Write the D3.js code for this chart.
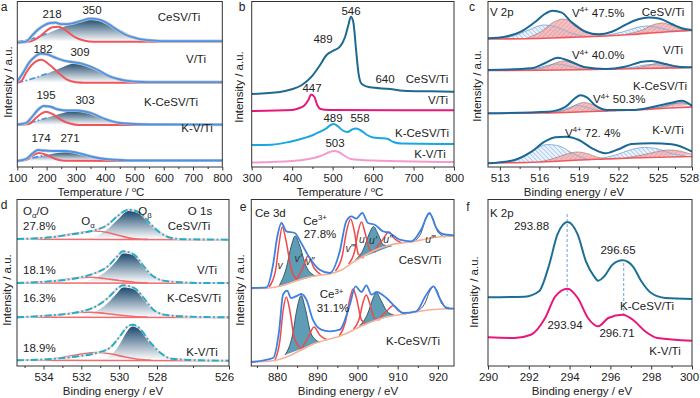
<!DOCTYPE html>
<html><head><meta charset="utf-8">
<script src="https://cdn.jsdelivr.net/npm/d3@7"></script>
<style>body{margin:0;background:#fff} text{font-family:"Liberation Sans",Arial,Helvetica,sans-serif;}</style>
</head><body><script>
// ---------------- DATA ----------------
// Panel a : NH3-TPD (temperature, intensity)
const aTicks=[100,200,300,400,500,600,700,800];
const a_CeSV_meas=[[100,124.3],[130,125.3],[150,131.3],[170,137.3],[190,141.3],[210,143.8],[230,144.3],[250,142.8],[270,142.8],[290,143.8],[320,146.3],[350,148.3],[380,147.3],[410,143.3],[440,137.3],[470,132.3],[500,129.3],[530,127.3],[570,126.3],[600,125.8],[800,125.8]];
const a_CeSV_red=[[100,125.3],[140,125.3],[160,127.3],[180,131.3],[200,136.3],[220,139.8],[240,140.3],[260,137.8],[280,133.3],[300,129.3],[330,126.3],[360,125.3],[800,125.3]];
const a_CeSV_c2=[[100,125.3],[150,128.3],[200,133.3],[250,139.3],[300,144.3],[350,147.3],[400,144.3],[450,137.3],[500,130.3],[550,126.8],[600,125.3]];
const a_V_meas=[[100,85.3],[120,94.3],[140,104.3],[160,110.3],[180,113.3],[200,112.8],[230,109.3],[260,106.3],[290,104.8],[320,103.3],[350,100.3],[380,96.3],[410,91.3],[440,88.3],[470,86.3],[500,85.3],[550,84.8],[800,84.8]];
const a_V_red=[[100,84.3],[115,86.3],[130,94.3],[150,102.3],[182,107.3],[210,102.3],[240,94.3],[270,87.3],[300,84.8],[330,84.3],[800,84.3]];
const a_V_c2=[[100,84.3],[150,88.3],[200,93.3],[250,99.3],[300,103.8],[350,101.3],[400,94.3],[450,88.3],[500,85.3],[550,84.3]];
const a_KCeSV_meas=[[100,42.5],[130,44],[150,50],[170,57],[190,61],[210,60.5],[240,57.5],[270,56.5],[300,56.5],[330,55.5],[360,53],[390,49],[420,46],[450,44],[500,43],[600,42.5],[800,42.3]];
const a_KCeSV_red=[[100,42],[140,43],[160,48],[180,53],[198,55.3],[220,53],[250,47],[280,43.5],[310,42],[800,42]];
const a_KCeSV_c2=[[100,42],[150,45],[200,49],[250,53.5],[300,56],[350,54],[400,48],[450,44],[500,42.5],[550,42]];
const a_KV_meas=[[100,6],[130,8],[150,13],[170,17],[190,16.5],[220,16],[260,16],[290,15],[320,13],[360,10],[400,8],[450,7],[500,6.5],[800,6.5]];
const a_KV_red=[[100,6],[130,7],[150,11],[174,14],[200,12],[230,8],[260,6.3],[800,6]];
const a_KV_c2=[[110,6],[150,9],[200,12],[250,14.5],[271,15],[300,14],[350,11],[400,8],[450,6.5],[500,6]];

// Panel b : H2-TPR
const bTicks=[300,400,500,600,700,800];
const b_CeSV=[[300,73],[370,75],[399,77.7],[424,82],[448,90.3],[469,102],[485,112],[502,116.3],[518,120.3],[531,130.3],[539,142],[545,150.3],[551,145.3],[558,117],[564,93.7],[572,83],[592,79.7],[642,78],[675,76.3],[741,75.7],[800,75.3]];
const b_V=[[300,56],[400,57],[415,58.5],[430,61.5],[440,67],[447,72.5],[455,70],[462,62],[470,58],[490,57],[800,56.7]];
const b_KCeSV=[[300,22],[350,22.3],[395,25.3],[430,29],[452,32],[470,35.5],[485,38.7],[495,42],[503,43],[512,41],[525,36.5],[537,35],[548,37.5],[557,38.5],[568,37],[585,32],[600,29.5],[620,28.8],[635,28.3],[650,25],[670,23.5],[800,23]];
const b_KV=[[300,4.5],[400,6],[440,8],[470,11],[490,14.5],[503,16],[515,15],[530,11],[545,8],[570,7],[600,6.5],[700,5.5],[800,5]];

// Panel c : V 2p XPS
const cTicks=[513,516,519,522,525,528];
const c_CeSV_env=[[512.1,128.7],[513.4,130.3],[514.6,135.3],[515.7,145.3],[516.4,153],[517.0,156.3],[517.7,154.3],[518.4,145.3],[519.5,135.3],[520.5,132.7],[521.5,135.3],[522.5,142],[523.5,147.7],[524.3,149.5],[525.1,148.5],[526.2,143],[527.1,138.7],[528,137]];
const c_CeSV_base=[[512.1,128],[515,128.3],[517,129],[519,130],[521,131],[523,132.5],[525,134.5],[527,136],[528,136.5]];
const c_CeSV_v5a=[[512.8,128.3],[514,131],[515.2,137],[516.3,142],[517.3,140],[518.4,134],[519.6,130.3]];
const c_CeSV_v4a=[[515,128.5],[516.2,136],[517.1,145],[517.8,148],[518.6,144],[519.6,135],[521,131]];
const c_CeSV_v5b=[[521,131.5],[522.3,135],[523.4,139.5],[524.2,141],[525,139.5],[526.2,136.5],[527.5,136]];
const c_CeSV_v4b=[[522.5,132.5],[523.8,137],[524.7,142.5],[525.4,144],[526.1,142],[527,138],[528,136.8]];
const c_V_env=[[512.1,97],[515.4,98.7],[516.4,103.7],[517.4,109.3],[518.4,105.3],[519.5,99.7],[521,98],[522.5,100.3],[523.8,105.3],[524.5,106],[525.6,103],[526.8,100.3],[528,99.7]];
const c_V_base=[[512.1,96.5],[516,96.8],[519,97.3],[522,98],[525,98.8],[528,99.5]];
const c_V_v5a=[[514.5,96.8],[515.7,98.5],[516.6,101.5],[517.3,103],[518.1,101.5],[519,98.5],[520,97.2]];
const c_V_v4a=[[515.5,97],[516.6,100.5],[517.3,104.5],[517.8,106],[518.4,104.5],[519.2,100.5],[520.3,97.5]];
const c_V_v5b=[[522,98.2],[523.2,100],[524,102],[524.7,102.5],[525.4,101.5],[526.3,99.5],[527.3,99]];
const c_V_v4b=[[523,98.5],[524.1,101],[524.8,103.5],[525.3,104],[525.9,103],[526.8,100.5],[527.8,99.5]];
const c_KCeSV_env=[[512.1,53.7],[516.7,55.3],[518.0,60.3],[518.7,68.7],[519.1,71.7],[519.6,69.7],[520.2,62],[521.2,57],[523,57],[524.5,59.7],[526.2,64.3],[527.1,66.3],[528,61]];
const c_KCeSV_base=[[512.1,53.5],[516,54],[518,54.5],[520,55.5],[522,56.5],[524,57.5],[526,59],[528,60]];
const c_KCeSV_v5a=[[516.5,54],[517.5,56],[518.3,59.5],[518.9,61.5],[519.5,60],[520.3,57],[521.2,55.5]];
const c_KCeSV_v4a=[[517,54.3],[518.2,58],[518.9,63],[519.4,64.5],[520,62.5],[520.8,58],[521.8,56]];
const c_KCeSV_v5b=[[524,57.5],[525.2,60],[526.2,63],[526.9,64],[527.6,63],[528,62]];
const c_KCeSV_v4b=[[524.5,58],[525.6,60.5],[526.5,63.5],[527.2,64.5],[527.8,63],[528,62.5]];
const c_KV_env=[[512.1,3.7],[514.1,7],[515.4,15.3],[516.4,25.3],[517.2,29.7],[518.0,30.3],[519.0,27],[520.0,18.7],[521.0,13.7],[522.0,17.7],[523.0,23],[524.5,23.7],[526.2,22.7],[527.4,18.7],[528,15.3]];
const c_KV_base=[[512.1,4],[515,4.5],[517,5.5],[519,7],[521,8],[523,9],[525,9.8],[528,10.5]];
const c_KV_v5a=[[513.2,4.2],[514.5,8],[515.6,17],[516.6,22.5],[517.5,21],[518.6,13],[519.8,7]];
const c_KV_v4a=[[516,5],[517.2,9],[518.2,13.5],[518.9,15],[519.6,13.5],[520.5,9.5],[521.6,8]];
const c_KV_v5b=[[520.5,8],[521.8,12],[523,17.5],[524,19.5],[525,18],[526.3,13],[527.5,11]];
const c_KV_v4b=[[522.5,9],[523.8,12],[525,15.5],[526,17],[526.9,16],[527.7,13.5],[528,12.5]];

// Panel d : O 1s XPS
const dTicks=[534,532,530,528,526];
const d_CeSV_env=[[535.4,127],[533.6,128.7],[532.4,132],[531.4,135.3],[530.6,141.3],[530.1,149.7],[529.5,156.3],[528.9,153],[528.4,143],[527.9,133],[527.6,128],[527.2,126.7],[526,126.3]];
const d_CeSV_base=[[535.4,126.8],[526,126.3]];
const d_CeSV_Oa=[[535,127],[534,128],[533,130.5],[532,133.5],[531.3,135],[530.6,133.5],[530,130.5],[529.3,127.5],[528.5,126.6]];
const d_CeSV_Ob=[[532,127],[531.2,130],[530.6,137],[530.1,146],[529.5,155],[528.9,152],[528.4,142],[527.9,132],[527.5,127.5],[527.2,127]];
const d_V_env=[[535.4,83],[533.6,84.7],[532.2,88],[531.4,92],[530.6,99.7],[530.1,109.7],[529.8,114.7],[529.2,111.3],[528.7,99.7],[528.2,89.7],[527.7,84.7],[526.8,83],[526,83]];
const d_V_base=[[535.4,83],[526,82.8]];
const d_V_Oa=[[535,83],[534,84],[533,86],[532.2,88.3],[531.5,88.7],[530.8,87.5],[530,85.5],[529.2,83.8],[528.5,83.2]];
const d_V_Ob=[[532.3,83.2],[531.4,87],[530.6,96],[530.1,106],[529.8,112.5],[529.2,110.5],[528.7,99],[528.2,89.5],[527.7,84.5],[527.2,83.2]];
const d_KCeSV_env=[[535.4,48.7],[533.6,50.7],[532.2,53.7],[531.4,58],[530.6,68],[530.1,77.3],[529.8,80.7],[529.2,78],[528.7,68],[528.2,56.3],[527.7,50.7],[526.8,49],[526,48.7]];
const d_KCeSV_base=[[535.4,48.7],[526,48.5]];
const d_KCeSV_Oa=[[535,48.7],[534,49.5],[533,51.5],[532.2,53.5],[531.5,53.8],[530.8,52.8],[530,51],[529.2,49.5],[528.5,48.9]];
const d_KCeSV_Ob=[[532.3,49],[531.4,53],[530.6,63],[530.1,73],[529.8,78.5],[529.2,76.5],[528.7,66.5],[528.2,55],[527.7,50],[527.2,49]];
const d_KV_env=[[535.4,5.7],[533.6,7],[532.2,9.7],[531.2,13],[530.5,18],[529.9,31.3],[529.6,38.7],[529.3,41.3],[528.9,37.3],[528.4,24.7],[527.9,13],[527.6,7.3],[526.8,5.7],[526,5.3]];
const d_KV_base=[[535.4,5.7],[526,5.3]];
const d_KV_Oa=[[535,5.7],[534,6.3],[533,8.5],[532,12],[531.2,13.5],[530.4,12],[529.7,9],[529,6.8],[528.3,5.8]];
const d_KV_Ob=[[531.2,6],[530.5,10],[529.9,24],[529.6,34],[529.3,39.5],[528.9,36],[528.4,23.5],[527.9,12],[527.6,7],[527.3,6]];

// Panel e : Ce 3d XPS
const eTicks=[880,890,900,910,920];
const e_CeSV_env=[[873.6,78],[877.4,78.7],[879.0,101],[880.0,128],[881.1,143],[882.3,134.7],[884.4,133],[886.0,123],[888.1,108],[890.6,96.3],[893.1,93],[895.6,114.7],[897.2,144.7],[898.5,149.7],[899.7,147.3],[901.2,153],[902.6,143],[904.3,141.3],[906.3,134.7],[908.0,133],[910.5,126.3],[913.4,124.7],[915.8,136.3],[917.9,153],[919.6,138],[921.2,132],[923.9,130.7]];
const e_CeSV_base=[[873.6,77.5],[878,78],[881,80],[884,84],[887,88],[890,90.5],[893,92],[896,96],[899,104],[902,111],[905,117],[908,121],[911,123],[914,124.5],[917,127],[920,129],[924,130]];
const e_CeSV_red=[
 [[878,79],[879.6,95],[880.5,122],[881.3,139],[882.3,124],[883.5,97],[885,86]],
 [[884.8,86],[886.3,97],[887.7,110],[889.2,98],[891,91]],
 [[894.5,95],[896.2,110],[897.3,135],[898.3,147],[899.2,135],[900.2,112],[901.5,108]],
 [[897.8,102],[899.3,115],[900.2,135],[901,144],[901.9,133],[903.1,116],[904.5,114]],
 [[904.5,117],[906.2,126],[907.8,134],[909.3,127],[911,123]]];
const e_CeSV_ce3=[
 [[880.5,80],[882.3,98],[883.6,121],[884.5,130],[885.6,121],[887.2,100],[889.5,90]],
 [[899.5,106],[901.5,117],[902.9,132],[904,139.5],[905.1,132],[906.5,121],[908.5,120]]];
const e_CeSV_gray=[[914.2,125],[915.8,133],[917,147],[917.9,152],[918.8,147],[920,134],[921.8,129]];
const e_KCeSV_env=[[873.6,4],[879.0,8],[880.5,34.7],[881.5,71.3],[882.5,75.3],[883.5,68],[885.2,70.7],[886.0,72],[887.3,66.3],[888.9,46.3],[891.0,36.3],[893.1,34.7],[895.6,36.3],[898.1,61.3],[899.5,79.7],[901.0,74],[902.2,80.7],[903.5,71.3],[904.7,74],[907.2,68],[909.7,58],[911.3,53],[914.6,54.7],[917.1,71.3],[918.9,79.7],[920.4,68],[922.1,58],[923.9,57.3]];
const e_KCeSV_base=[[873.6,4],[877,4.5],[880,6],[883,10],[886,16],[889,22],[892,26],[895,29],[898,34],[901,40],[904,45],[907,49],[910,51],[913,53],[916,55],[919,56.5],[924,57.5]];
const e_KCeSV_red=[
 [[879.5,6],[880.7,25],[881.5,55],[882.3,69],[883.2,55],[884.3,28],[886,17]],
 [[886.2,18],[887.8,29],[889.2,39],[890.6,31],[892.5,26]],
 [[895.5,30],[897,44],[898.1,67],[898.9,77],[899.8,67],[901,46],[902.3,42]],
 [[899,37],[900.5,48],[901.4,64],[902.2,71],[903,63],[904.2,48],[905.5,46]],
 [[905.5,48],[907.3,55],[908.9,60.5],[910.3,55],[912,52]]];
const e_KCeSV_ce3=[
 [[882,11],[883.8,30],[885,58],[886,70.5],[887,58],[888.5,32],[890.5,24]],
 [[900.5,40],[902.5,52],[903.8,67],[904.7,73.5],[905.8,66],[907.3,55],[909,51]]];
const e_KCeSV_gray=[[915,55],[916.8,63],[918,75],[918.9,79.5],[919.8,75],[921,62],[922.8,58]];

// Panel f : K 2p XPS
const fTicks=[290,292,294,296,298,300];
const f_KCeSV=[[290,68.7],[291.8,69.3],[292.5,74.7],[293.0,101.3],[293.4,131.3],[293.9,144],[294.4,131.3],[294.8,104.7],[295.2,89.7],[295.4,85.3],[295.7,89.7],[296.1,101.3],[296.6,105.7],[297.1,99.7],[297.5,85.3],[298.0,73],[298.7,68],[300,67]];
const f_KV=[[290,28.7],[291.3,28],[292.1,31.3],[292.8,48],[293.3,69.7],[293.9,77.3],[294.4,68],[294.9,48],[295.4,39.7],[295.9,48],[296.6,51.3],[297.1,46.3],[297.7,34.7],[298.3,28],[300,25.3]];
const f_peakMarks=[[293.88,152,70],[296.65,103,50]];

// ---------------- DRAWING ----------------
const FONT='"Liberation Sans",Arial,Helvetica,sans-serif';
const svg=d3.select("body").append("svg").attr("width",700).attr("height",398);
const defs=svg.append("defs");
function grad(id,c){const g=defs.append("linearGradient").attr("id",id).attr("x1",0).attr("y1",0).attr("x2",0).attr("y2",1);
 g.append("stop").attr("offset","0%").attr("stop-color",c);
 g.append("stop").attr("offset","100%").attr("stop-color","#ffffff");}
grad("gA","#244f70"); grad("gD","#1c4a70");
function hatch(id,bg,fg,rot){const p=defs.append("pattern").attr("id",id).attr("patternUnits","userSpaceOnUse").attr("width",3.2).attr("height",3.2).attr("patternTransform",`rotate(${rot})`);
 p.append("rect").attr("width",3.2).attr("height",3.2).attr("fill",bg);
 p.append("line").attr("x1",0).attr("y1",0).attr("x2",0).attr("y2",3.2).attr("stroke",fg).attr("stroke-width",1.1);}
hatch("hB","#eaf2fc","#86b4ea",-45); hatch("hP","#f5b4b4","#e48a8e",45);

function panel(id,xd,xr,top,bottom,ticks,minor,lastDx){
 const x=d3.scaleLinear().domain(xd).range(xr);
 const y=d3.scaleLinear().domain([0,bottom-top]).range([bottom,top]);
 const L=xr[0],R=xr[xr.length-1];
 defs.append("clipPath").attr("id","clip"+id).append("rect").attr("x",L).attr("y",top).attr("width",R-L).attr("height",bottom-top);
 const outer=svg.append("g");
 const g=outer.append("g").attr("clip-path",`url(#clip${id})`);
 const ax=outer.append("g").attr("transform",`translate(0,${bottom})`).call(d3.axisBottom(x).tickValues(ticks).tickSize(3.5).tickPadding(3.5).tickFormat(d3.format("d")));
 ax.select(".domain").remove();
 ax.selectAll("line").attr("stroke","#333");
 ax.selectAll("text").attr("font-size",11.5).attr("fill","#222").attr("font-family",FONT);
 if(lastDx) ax.selectAll("text").filter((d,i,n)=>i===n.length-1).attr("dx",lastDx);
 const mi=outer.append("g").attr("transform",`translate(0,${bottom})`).call(d3.axisBottom(x).tickValues(minor).tickSize(2).tickFormat(""));
 mi.select(".domain").remove(); mi.selectAll("line").attr("stroke","#333");
 outer.append("rect").attr("x",L).attr("y",top).attr("width",R-L).attr("height",bottom-top).attr("fill","none").attr("stroke","#333").attr("stroke-width",1);
 return {x,y,g,outer,L,R,top,bottom};
}
function path(P,data,o){
 const ln=d3.line().x(d=>P.x(d[0])).y(d=>P.y(d[1])).curve(d3.curveMonotoneX);
 return P.g.append("path").attr("d",ln(data)).attr("fill",o.fill||"none").attr("stroke",o.stroke||"none")
  .attr("stroke-width",o.w||1).attr("stroke-dasharray",o.dash||null).attr("opacity",o.op||1).attr("stroke-linejoin","round");
}
function label(g,x,y,parts,o={}){
 const size=o.size||11.5;
 const t=g.append("text").attr("x",x).attr("y",y+4).attr("text-anchor",o.anchor||"middle").attr("font-size",size).attr("fill",o.fill||"#222").attr("font-family",FONT);
 if(o.italic)t.attr("font-style","italic");
 if(o.rotate)t.attr("transform",`rotate(-90,${x},${y})`).attr("y",y+4);
 let shift=0;
 parts.forEach(p=>{const s=typeof p==="string"?p:p[0],k=typeof p==="string"?null:p[1];
  const target=k==="sup"?-4.5:k==="sub"?3:0;
  const ts=t.append("tspan").text(s).attr("dy",target-shift);shift=target;
  if(k)ts.attr("font-size",size*0.68);});
}
const tempTitle=["Temperature / ",["o","sup"],"C"];
const beTitle=["Binding energy / eV"];
const yTitle=["Intensity / a.u."];

// ---- Panel a
{const P=panel("a",[100,800],[17.3,222.3],1.5,167,aTicks,[150,250,350,450,550,650,750]);
 const sets=[[a_CeSV_meas,a_CeSV_red,a_CeSV_c2],[a_V_meas,a_V_red,a_V_c2],[a_KCeSV_meas,a_KCeSV_red,a_KCeSV_c2],[a_KV_meas,a_KV_red,a_KV_c2]];
 sets.forEach(([m,r,c])=>{
  path(P,c,{fill:"url(#gA)"});
  path(P,c.filter(d=>d[0]<=220),{stroke:"#3f8fe8",w:1.6,dash:"6,2.5,1.5,2.5"});
  path(P,r,{stroke:"#f2545b",w:2});
  path(P,m,{stroke:"#c8c8c8",w:3.2});
  path(P,m,{stroke:"#4a93ea",w:1.8});
 });
 const o=P.outer;
 label(o,52,14,["218"]);label(o,92,10,["350"]);label(o,179,17,["CeSV/Ti"]);
 label(o,43,49,["182"]);label(o,80,52,["309"]);label(o,196,59,["V/Ti"]);
 label(o,46,95,["195"]);label(o,85,100,["303"]);label(o,171,102,["K-CeSV/Ti"]);
 label(o,41,138,["174"]);label(o,70,138,["271"]);label(o,197,128,["K-V/Ti"]);
 label(o,101,192,tempTitle);label(o,7.5,82,yTitle,{rotate:true});
 label(o,4,7,["a"],{size:12});
}
// ---- Panel b
{const P=panel("b",[300,800],[251.7,454],1.5,167,bTicks,[350,450,550,650,750]);
 path(P,b_KV,{stroke:"#f39bcd",w:2});
 path(P,b_KCeSV,{stroke:"#1aa6e0",w:2});
 path(P,b_V,{stroke:"#e8187a",w:2});
 path(P,b_CeSV,{stroke:"#1d6a8e",w:2});
 const o=P.outer;
 label(o,351,10.5,["546"]);label(o,323,39,["489"]);label(o,385,79,["640"]);label(o,427,79,["CeSV/Ti"]);
 label(o,312,88,["447"]);label(o,438,100,["V/Ti"]);
 label(o,333,118,["489"]);label(o,360,118,["558"]);label(o,422,133,["K-CeSV/Ti"]);
 label(o,335,142.5,["503"]);label(o,430,154,["K-V/Ti"]);
 label(o,340,192,tempTitle);label(o,238.5,87,yTitle,{rotate:true});
 label(o,242,7,["b"],{size:12});
}
// ---- Panel c
{const P=panel("c",[512.1,525,528],[488,658,692],1.5,167,cTicks,[514.5,517.5,520.5,523.5,526.5],-3);
 const sets=[[c_CeSV_env,c_CeSV_base,c_CeSV_v5a,c_CeSV_v4a,c_CeSV_v5b,c_CeSV_v4b],[c_V_env,c_V_base,c_V_v5a,c_V_v4a,c_V_v5b,c_V_v4b],
  [c_KCeSV_env,c_KCeSV_base,c_KCeSV_v5a,c_KCeSV_v4a,c_KCeSV_v5b,c_KCeSV_v4b],[c_KV_env,c_KV_base,c_KV_v5a,c_KV_v4a,c_KV_v5b,c_KV_v4b]];
 sets.forEach(([env,base,h1,p1,h2,p2])=>{
  path(P,h1,{fill:"url(#hB)"});path(P,h2,{fill:"url(#hB)"});
  path(P,p1,{fill:"url(#hP)",op:0.85});path(P,p2,{fill:"url(#hP)",op:0.85});
  [h1,h2].forEach(d=>path(P,d,{stroke:"#8fb2d6",w:1}));
  [p1,p2].forEach(d=>path(P,d,{stroke:"#8a6c6c",w:0.8,op:0.7}));
  path(P,base,{stroke:"#f0585e",w:1.6});
  path(P,env,{stroke:"#1b6896",w:2});
 });
 const o=P.outer;
 label(o,490,11.5,["V 2p"],{anchor:"start"});
 label(o,572,12.5,["V",["4+","sup"]," 47.5%"],{anchor:"start"});label(o,663,12,["CeSV/Ti"]);
 label(o,673,50,["V/Ti"]);label(o,572,55,["V",["4+","sup"]," 40.0%"],{anchor:"start"});
 label(o,660,85.5,["K-CeSV/Ti"]);label(o,593,99,["V",["4+","sup"]," 50.3%"],{anchor:"start"});
 label(o,565,132.5,["V",["4+","sup"]," 72. 4%"],{anchor:"start"});label(o,668,130,["K-V/Ti"]);
 label(o,574,192,beTitle);label(o,476.5,86,yTitle,{rotate:true});
 label(o,472,7,["c"],{size:12});
}
// ---- Panel d
{const P=panel("d",[535.4,528,526],[17,157,229],199.5,366,dTicks,[535,533,531,529,527],-5);
 const sets=[[d_CeSV_env,d_CeSV_base,d_CeSV_Oa,d_CeSV_Ob],[d_V_env,d_V_base,d_V_Oa,d_V_Ob],[d_KCeSV_env,d_KCeSV_base,d_KCeSV_Oa,d_KCeSV_Ob],[d_KV_env,d_KV_base,d_KV_Oa,d_KV_Ob]];
 sets.forEach(([env,base,oa,ob])=>{
  path(P,ob,{fill:"url(#gD)"});
  path(P,base,{stroke:"#f26b6e",w:1.6});
  path(P,oa,{stroke:"#f26b6e",w:1.6});
  path(P,env,{stroke:"#f4d4da",w:2.2});
  path(P,env,{stroke:"#19b2c6",w:1.9,dash:"7,2.5,1.8,2.5"});
 });
 const o=P.outer;
 label(o,23,211,["O",["α","sub"],"/O"],{anchor:"start"});label(o,23,226,["27.8%"],{anchor:"start"});
 label(o,88,221,["O",["α","sub"]]);label(o,145,211,["O",["β","sub"]]);label(o,200,211,["O 1s"]);
 label(o,189,226,["CeSV/Ti"]);
 label(o,23,269.5,["18.1%"],{anchor:"start"});label(o,207,270,["V/Ti"]);
 label(o,23,298,["16.3%"],{anchor:"start"});label(o,194,298,["K-CeSV/Ti"]);
 label(o,23,348,["18.9%"],{anchor:"start"});label(o,202,352,["K-V/Ti"]);
 label(o,113,391,beTitle);label(o,6.5,290,yTitle,{rotate:true});
 label(o,4,205,["d"],{size:12});
}
// ---- Panel e
{const P=panel("e",[873.6,924],[251.3,454],199.5,366,eTicks,[875,885,895,905,915]);
 [[e_CeSV_env,e_CeSV_base,e_CeSV_red,e_CeSV_ce3,e_CeSV_gray],[e_KCeSV_env,e_KCeSV_base,e_KCeSV_red,e_KCeSV_ce3,e_KCeSV_gray]].forEach(([env,base,reds,ce3,gr])=>{
  ce3.forEach(d=>path(P,d,{fill:"#5e9db5",stroke:"#2f4f5c",w:0.9}));
  reds.forEach(d=>path(P,d,{stroke:"#ee4a4c",w:1.5}));
  path(P,gr,{stroke:"#555",w:1});
  path(P,base,{stroke:"#f6b196",w:1.6});
  path(P,env,{stroke:"#3f80e3",w:1.8});
 });
 const o=P.outer;
 label(o,255,213,["Ce 3d"],{anchor:"start"});
 label(o,315,220.5,["Ce",["3+","sup"]]);label(o,320,233.5,["27.8%"]);
 const it={italic:true,size:10.5,fill:"#333"};
 label(o,280,264.5,["v"],it);label(o,298,258,["v′"],it);label(o,310,261,["v″"],it);label(o,350,248,["v‴"],it);
 label(o,362,238.5,["u"],it);label(o,373,239.5,["u′"],it);label(o,388,238.5,["u″"],it);label(o,430,238.5,["u‴"],it);
 label(o,420,260,["CeSV/Ti"]);
 label(o,331.5,294,["Ce",["3+","sup"]]);label(o,333,307.5,["31.1%"]);label(o,413,341,["K-CeSV/Ti"]);
 label(o,348,391,beTitle);label(o,240,290,yTitle,{rotate:true});
 label(o,243,207,["e"],{size:12});
}
// ---- Panel f
{const P=panel("f",[290,300],[488,692],199.5,366,fTicks,[291,293,295,297,299],-3);
 f_peakMarks.forEach(m=>P.g.append("line").attr("x1",P.x(m[0])).attr("x2",P.x(m[0])).attr("y1",P.y(m[1])).attr("y2",P.y(m[2]))
   .attr("stroke","#7fb3e8").attr("stroke-width",1.2).attr("stroke-dasharray","3,2"));
 path(P,f_KV,{stroke:"#e8187a",w:2});
 path(P,f_KCeSV,{stroke:"#1d6f94",w:2});
 const o=P.outer;
 label(o,490,213,["K 2p"],{anchor:"start"});
 label(o,531.5,226,["293.88"]);label(o,618,249.5,["296.65"]);label(o,647,306,["K-CeSV/Ti"]);
 label(o,565,324.5,["293.94"]);label(o,617,333,["296.71"]);label(o,665,350.5,["K-V/Ti"]);
 label(o,582,391,beTitle);label(o,474,292,yTitle,{rotate:true});
 label(o,468,207,["f"],{size:12});
}
</script></body></html>
